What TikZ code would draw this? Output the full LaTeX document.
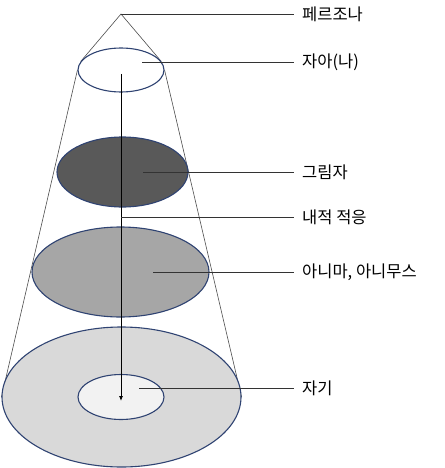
\documentclass[tikz,border=0pt]{standalone}
\usepackage{fontspec}
\setmainfont{Noto Sans CJK KR}
\usepackage{xcolor}
\usetikzlibrary{shapes.geometric,arrows.meta,backgrounds}
\definecolor{rim}{HTML}{2F4372}

\begin{document}
\begin{tikzpicture}[x=1pt,y=-1pt,
    layer/.style={ellipse, draw=rim, line width=1.1pt, inner sep=0pt},
    lbl/.style={anchor=west, inner xsep=8pt, font=\fontsize{16.5}{19}\selectfont},
    lead/.style={draw=black!80, line width=0.8pt}]
    \useasboundingbox (0,0) rectangle (444,468);

    % Layers of the psyche
    \node[layer, fill=white, minimum width=86, minimum height=44] (ego) at (121,70) {};
    \node[layer, fill={rgb,255:red,89;green,89;blue,89}, minimum width=131, minimum height=70] (shadow) at (122.5,172) {};
    \node[layer, fill={rgb,255:red,166;green,166;blue,166}, minimum width=177, minimum height=90] (anima) at (120.5,272) {};
    \node[layer, fill={rgb,255:red,217;green,217;blue,217}, minimum width=239, minimum height=140] (psyche) at (121.5,397) {};
    \node[layer, fill={rgb,255:red,242;green,242;blue,242}, minimum width=86, minimum height=45] (self) at (121,397) {};

    % Cone behind the layers
    \coordinate (apex) at (121,14);
    \begin{scope}[on background layer]
        \draw[black!70, line width=0.6pt] (ego.168) -- (apex) -- (ego.12);
        \draw[black!70, line width=0.6pt] (ego.west) -- (psyche.west);
        \draw[black!70, line width=0.6pt] (ego.east) -- (psyche.east);
    \end{scope}

    % Path inward
    \draw[-{Latex[length=5pt,width=4pt]}, line width=0.8pt, shorten <=4pt, shorten >=-4pt] (ego.center) -- (self.center);

    % Labels
    \foreach \sy/\sx/\txt in {14/121/페르조나, 62/142/자아(나), 172/143/그림자, 217/121/내적 적응, 272/153/{아니마, 아니무스}, 388/139/자기} {
        \coordinate (s\sy) at (\sx,\sy);
        \node[lbl] (l\sy) at (294,\sy) {\txt};
        \draw[lead] (s\sy) -- (l\sy.west);
    }
\end{tikzpicture}
\end{document}
